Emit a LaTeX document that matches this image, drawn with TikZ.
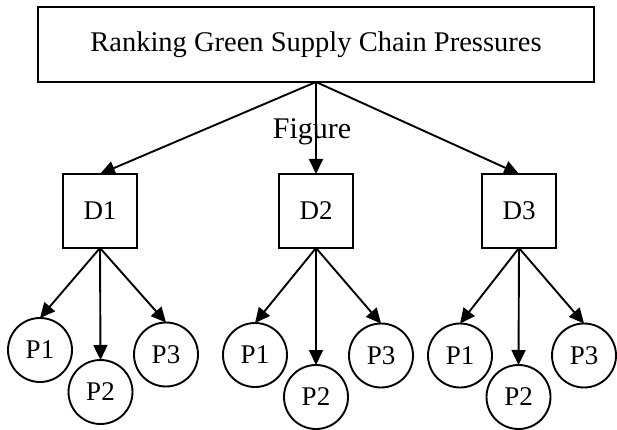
\documentclass[tikz,border=0pt]{standalone}
\usepackage{fontspec}
\setmainfont{Liberation Serif}
\usetikzlibrary{arrows.meta}

\tikzset{
  title box/.style={draw, line width=1.9pt, rectangle, inner sep=0pt, outer sep=0pt,
    minimum width=556pt, minimum height=75pt, font=\fontsize{28.5}{32}\selectfont},
  dim box/.style={draw, line width=1.9pt, rectangle, inner sep=0pt, outer sep=0pt,
    minimum width=74pt, minimum height=74pt, font=\fontsize{27}{30}\selectfont},
  press/.style={draw, line width=1.9pt, circle, inner sep=0pt, outer sep=0pt,
    minimum size=64pt, font=\fontsize{27}{30}\selectfont},
  link/.style={line width=1.9pt, -{Triangle[length=15pt,width=14pt]}},
}

\begin{document}
\begin{tikzpicture}[x=1pt, y=-1pt]
  \useasboundingbox (0,0) rectangle (617,430);

  % goal
  \node[title box] (goal) at (316,44.5) {Ranking Green Supply Chain Pressures};
  \node[font=\fontsize{30}{34}\selectfont] (cap) at (312,132) {Figure};

  % dimensions
  \node[dim box] (d1) at (100,211) {D1};
  \node[dim box] (d2) at (316,211) {D2};
  \node[dim box] (d3) at (519,211) {D3};

  % pressures under D1
  \node[press] (a1) at (40,350) {P1};
  \node[press] (a2) at (100.5,392) {P2};
  \node[press] (a3) at (166,354.5) {P3};
  % pressures under D2
  \node[press] (b1) at (255,355) {P1};
  \node[press] (b2) at (316,397) {P2};
  \node[press] (b3) at (381,355.5) {P3};
  % pressures under D3
  \node[press] (c1) at (460,355.5) {P1};
  \node[press] (c2) at (518.5,397) {P2};
  \node[press] (c3) at (584,355.5) {P3};

  % connectors
  \draw[link] (goal.south) -- (d1.north);
  \draw[link] (goal.south) -- (d2.north);
  \draw[link] (goal.south) -- (d3.north);

  \draw[link] (d1.south) -- (a1.north);
  \draw[link] (d1.south) -- (a2.north);
  \draw[link] (d1.south) -- (a3.north);

  \draw[link] (d2.south) -- (b1.north);
  \draw[link] (d2.south) -- (b2.north);
  \draw[link] (d2.south) -- (b3.north);

  \draw[link] (d3.south) -- (c1.north);
  \draw[link] (d3.south) -- (c2.north);
  \draw[link] (d3.south) -- (c3.north);
\end{tikzpicture}
\end{document}
